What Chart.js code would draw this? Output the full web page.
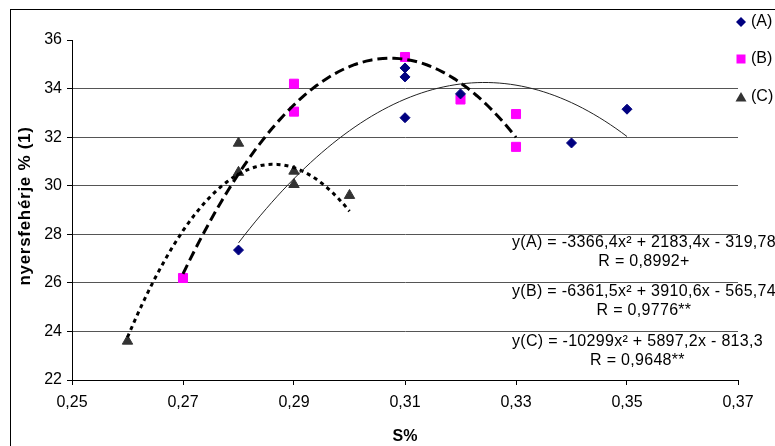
<!DOCTYPE html>
<html>
<head>
<meta charset="utf-8">
<script src="https://cdn.jsdelivr.net/npm/chart.js@4/dist/chart.umd.min.js"></script>
<style>
  html, body { margin: 0; padding: 0; background: #fff; }
  canvas { display: block; }
</style>
</head>
<body>
<canvas id="grafico" width="775" height="446"></canvas>
<script>
// mért pontok (S%, nyersfehérje %)
const sA = [0.28, 0.31, 0.31, 0.31, 0.32, 0.34, 0.35];
const fehA = [27.35, 32.8, 34.48, 34.85, 33.78, 31.76, 33.15];
const sB = [0.27, 0.29, 0.29, 0.31, 0.32, 0.33, 0.33];
const fehB = [26.2, 34.2, 33.05, 35.3, 33.55, 32.95, 31.6];
const sC = [0.26, 0.28, 0.28, 0.29, 0.29, 0.30];
const fehC = [23.6, 31.75, 30.55, 30.6, 30.05, 29.6];

// trendvonalak együtthatói a grafikonról (ax^2 + bx + c) és tartományuk
const trendA = [-3366.4, 2183.4, -319.78];
const trendB = [-6361.5, 3910.6, -565.74];
const trendC = [-10299, 5897.2, -813.3];
const rangeA = [0.28, 0.35];
const rangeB = [0.27, 0.33];
const rangeC = [0.26, 0.30];

const xTicks = [0.25, 0.27, 0.29, 0.31, 0.33, 0.35, 0.37];
const yTicks = [22, 24, 26, 28, 30, 32, 34, 36];

const eqA = ["y(A) = -3366,4x\u00B2 + 2183,4x - 319,78", "R = 0,8992+"];
const eqB = ["y(B) = -6361,5x\u00B2 + 3910,6x - 565,74", "R = 0,9776**"];
const eqC = ["y(C) = -10299x\u00B2 + 5897,2x - 813,3", "R = 0,9648**"];

const FONT = "'Liberation Sans', Arial, sans-serif";

function pontok(xs, ys) {
    return xs.map((x, i) => ({ x: x, y: ys[i] }));
}

function gorbe(k, r) {
    const pts = [];
    const n = Math.round((r[1] - r[0]) / 0.001);
    for (let i = 0; i <= n; i++) {
        const x = r[0] + i * 0.001;
        pts.push({ x: x, y: k[0] * x * x + k[1] * x + k[2] });
    }
    return pts;
}

const diszites = {
    id: "diszites",
    afterDraw(chart) {
        const ctx = chart.ctx;
        const area = chart.chartArea;
        ctx.save();

        // keret
        ctx.strokeStyle = "#000";
        ctx.lineWidth = 1;
        ctx.strokeRect(10.5, 9.5, 800, 500);

        // tengelycímek
        ctx.fillStyle = "#000";
        ctx.textAlign = "center";
        ctx.textBaseline = "middle";
        ctx.font = "bold 16px " + FONT;
        ctx.fillText("S%", (area.left + area.right) / 2, 437);
        ctx.save();
        ctx.font = "bold 17px " + FONT;
        ctx.letterSpacing = "0.7px";
        ctx.translate(25, 206);
        ctx.rotate(-Math.PI / 2);
        ctx.fillText("nyersfehérje % (1)", 0, 0);
        ctx.restore();

        // egyenletek
        ctx.save();
        ctx.font = "16px " + FONT;
        ctx.letterSpacing = "0.3px";
        const dobozok = [[eqA, 243], [eqB, 292], [eqC, 342]];
        dobozok.forEach(([eq, y]) => {
            ctx.textAlign = "left";
            const w = ctx.measureText(eq[0]).width;
            ctx.fillText(eq[0], 512, y);
            ctx.textAlign = "center";
            ctx.fillText(eq[1], 512 + w / 2, y + 19);
        });
        ctx.restore();

        // jelmagyarázat
        const jelek = ["(A)", "(B)", "(C)"];
        const ly = [22, 59, 97];
        ctx.font = "16px " + FONT;
        ctx.textAlign = "left";
        jelek.forEach((t, i) => {
            const y = ly[i];
            const x = 741;
            ctx.beginPath();
            if (i === 0) {
                ctx.fillStyle = "#000080";
                ctx.moveTo(x, y - 5); ctx.lineTo(x + 5, y); ctx.lineTo(x, y + 5); ctx.lineTo(x - 5, y);
                ctx.closePath(); ctx.fill();
            } else if (i === 1) {
                ctx.fillStyle = "#FF00FF";
                ctx.fillRect(x - 4.5, y - 4.5, 9, 9);
            } else {
                ctx.fillStyle = "#333333";
                ctx.moveTo(x, y - 5); ctx.lineTo(x + 5.5, y + 4.5); ctx.lineTo(x - 5.5, y + 4.5);
                ctx.closePath(); ctx.fill();
            }
            ctx.fillStyle = "#000";
            ctx.fillText(t, 751, y);
        });
        ctx.restore();
    },
};

const ctxGraf = document.getElementById("grafico").getContext("2d");

const data = {
    datasets: [
        {
            label: "(A)",
            data: pontok(sA, fehA),
            backgroundColor: "#000080",
            borderColor: "#000080",
            pointStyle: "rectRot",
            pointRadius: 5,
            order: 1,
        },
        {
            label: "(B)",
            data: pontok(sB, fehB),
            backgroundColor: "#FF00FF",
            borderColor: "#FF00FF",
            pointStyle: "rect",
            pointRadius: 6.4,
            order: 1,
        },
        {
            label: "(C)",
            data: pontok(sC, fehC),
            backgroundColor: "#333333",
            borderColor: "#333333",
            pointStyle: "triangle",
            pointRadius: 6,
            order: 1,
        },
        {
            label: "trend A",
            data: gorbe(trendA, rangeA),
            showLine: true,
            borderColor: "#222",
            borderWidth: 1,
            pointRadius: 0,
            order: 0,
        },
        {
            label: "trend B",
            data: gorbe(trendB, rangeB),
            showLine: true,
            borderColor: "#000",
            borderWidth: 3,
            borderDash: [10, 5],
            pointRadius: 0,
            order: 0,
        },
        {
            label: "trend C",
            data: gorbe(trendC, rangeC),
            showLine: true,
            borderColor: "#000",
            borderWidth: 3,
            borderDash: [4, 4],
            pointRadius: 0,
            order: 0,
        },
    ],
};

const options = {
    responsive: false,
    animation: false,
    layout: { padding: { left: 0, top: 40, right: 37, bottom: 0 } },
    plugins: {
        legend: { display: false },
        tooltip: { enabled: false },
    },
    scales: {
        x: {
            type: "linear",
            min: 0.25,
            max: 0.37,
            afterBuildTicks: (scale) => { scale.ticks = xTicks.map((v) => ({ value: v })); },
            afterFit: (scale) => { scale.height = 66; },
            ticks: {
                color: "#000",
                font: { family: FONT, size: 16 },
                padding: 8,
                maxRotation: 0,
                callback: (v) => Number(v).toFixed(2).replace(".", ","),
            },
            grid: {
                drawOnChartArea: false,
                tickLength: 5,
                tickColor: "#000",
            },
            border: { color: "#000", width: 1 },
        },
        y: {
            min: 22,
            max: 36,
            afterBuildTicks: (scale) => { scale.ticks = yTicks.map((v) => ({ value: v })); },
            afterFit: (scale) => { scale.width = 72; },
            ticks: {
                color: "#000",
                font: { family: FONT, size: 16 },
                padding: 5,
                callback: (v) => String(v),
            },
            grid: {
                color: (c) => (c.tick && (c.tick.value === 36 || c.tick.value === 22) ? "rgba(0,0,0,0)" : "#555"),
                tickLength: 5,
                tickColor: "#000",
            },
            border: { color: "#000", width: 1 },
        },
    },
};

const miChart = new Chart(ctxGraf, {
    type: "scatter",
    data: data,
    options: options,
    plugins: [diszites],
});
</script>
</body>
</html>
